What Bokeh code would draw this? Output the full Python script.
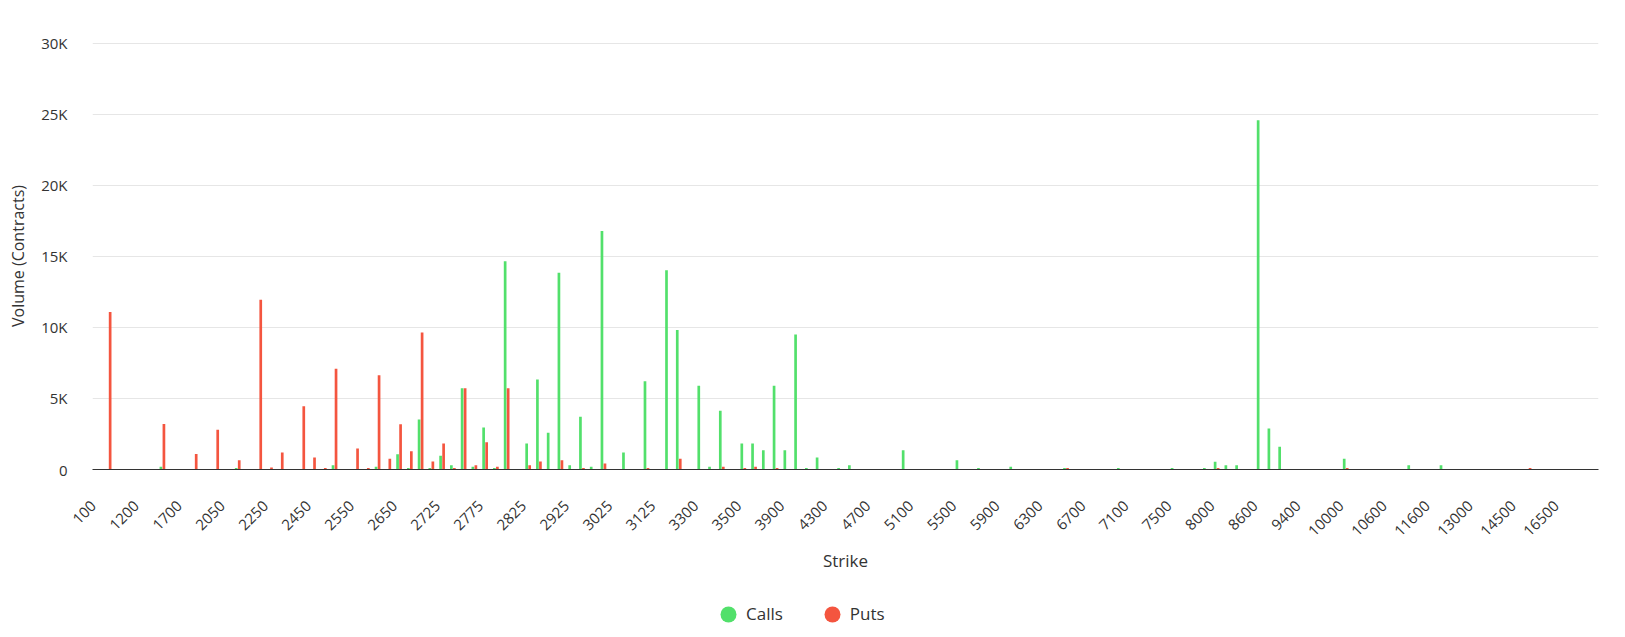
import math
import numpy as np
from bokeh.plotting import figure
from bokeh.layouts import column
from bokeh.models import ColumnDataSource, Range1d, FixedTicker, Legend, LegendItem
from bokeh.transform import dodge
from bokeh.embed import file_html
from bokeh.resources import INLINE

# ---- data -------------------------------------------------------------
strikes = [
    "100", "500", "800", "1000", "1200", "1300", "1500", "1600", "1700", "1800",
    "1900", "2000", "2050", "2100", "2150", "2200", "2250", "2300", "2350", "2400",
    "2450", "2475", "2500", "2525", "2550", "2575", "2600", "2625", "2650", "2675",
    "2700", "2710", "2725", "2740", "2750", "2760", "2775", "2780", "2800", "2810",
    "2825", "2850", "2875", "2900", "2925", "2950", "2975", "3000", "3025", "3050",
    "3075", "3100", "3125", "3150", "3200", "3250", "3300", "3350", "3400", "3450",
    "3500", "3600", "3700", "3800", "3900", "4000", "4100", "4200", "4300", "4400",
    "4500", "4600", "4700", "4800", "4900", "5000", "5100", "5200", "5300", "5400",
    "5500", "5600", "5700", "5800", "5900", "6000", "6100", "6200", "6300", "6400",
    "6500", "6600", "6700", "6800", "6900", "7000", "7100", "7200", "7300", "7400",
    "7500", "7600", "7700", "7800", "8000", "8200", "8400", "8500", "8600", "8800",
    "9000", "9200", "9400", "9600", "9800", "9900", "10000", "10200", "10400", "10500",
    "10600", "11000", "11200", "11400", "11600", "12000", "12400", "12800", "13000", "13500",
    "14000", "14200", "14500", "15000", "15500", "16000", "16500", "17000", "18000", "20000",
]

calls = [
    0, 0, 0, 0, 0, 0, 200, 0, 0, 0,
    0, 0, 0, 100, 0, 0, 0, 0, 0, 0,
    0, 0, 300, 0, 0, 0, 200, 0, 1080, 100,
    3520, 100, 960, 300, 5730, 200, 2960, 100, 14670, 0,
    1830, 6340, 2580, 13850, 300, 3710, 200, 16800, 0, 1200,
    0, 6220, 0, 14030, 9830, 0, 5890, 200, 4130, 0,
    1830, 1830, 1360, 5890, 1360, 9500, 100, 850, 0, 100,
    300, 0, 0, 0, 0, 1360, 0, 0, 0, 0,
    650, 0, 100, 0, 0, 200, 0, 0, 0, 0,
    100, 0, 0, 0, 0, 100, 0, 0, 0, 0,
    100, 0, 0, 100, 540, 300, 300, 0, 24600, 2890,
    1600, 0, 0, 0, 0, 0, 750, 0, 0, 0,
    0, 0, 300, 0, 0, 300, 0, 0, 0, 0,
    0, 0, 0, 0, 0, 0, 0, 0, 0, 0,
]

puts = [
    0, 11100, 0, 0, 0, 0, 3200, 0, 0, 1100,
    0, 2800, 0, 650, 0, 11950, 140, 1200, 0, 4460,
    850, 100, 7090, 0, 1480, 100, 6640, 750, 3190, 1290,
    9650, 560, 1830, 100, 5730, 300, 1920, 200, 5730, 0,
    300, 560, 0, 650, 0, 100, 0, 420, 0, 0,
    0, 100, 0, 0, 750, 0, 0, 0, 200, 0,
    100, 200, 0, 100, 0, 0, 0, 0, 0, 0,
    0, 0, 0, 0, 0, 0, 0, 0, 0, 0,
    0, 0, 0, 0, 0, 0, 0, 0, 0, 0,
    100, 0, 0, 0, 0, 0, 0, 0, 0, 0,
    0, 0, 0, 0, 100, 0, 0, 0, 0, 0,
    0, 0, 0, 0, 0, 0, 100, 0, 0, 0,
    0, 0, 0, 0, 0, 0, 0, 0, 0, 0,
    0, 0, 0, 100, 0, 0, 0, 0, 0, 0,
]

y_ticks = [0, 5000, 10000, 15000, 20000, 25000, 30000]
y_tick_labels = ["0", "5K", "10K", "15K", "20K", "25K", "30K"]
series_names = ["Calls", "Puts"]
label_step = 4

# ---- style ------------------------------------------------------------
FONT = "Open Sans"
TEXT = "#333333"
GREEN = "#52E06B"
RED = "#F4553F"
LABEL_SHIFT = -0.4   # rotated labels end just at their category

idx = list(range(len(strikes)))
src = ColumnDataSource(dict(idx=idx, strike=strikes, calls=calls, puts=puts))

p = figure(width=1625, height=590, output_backend="svg", toolbar_location=None,
           x_range=Range1d(-0.5, len(strikes) - 0.5), y_range=Range1d(0, 30070),
           min_border_left=92, min_border_right=27, min_border_top=42,
           min_border_bottom=121)
p.outline_line_color = None
p.background_fill_color = "white"
p.border_fill_color = "white"

p.vbar(x=dodge("idx", -0.14, range=p.x_range), top="calls", width=0.25,
       source=src, fill_color=GREEN, line_color=None)
p.vbar(x=dodge("idx", 0.14, range=p.x_range), top="puts", width=0.25,
       source=src, fill_color=RED, line_color=None)

# grid
p.xgrid.visible = False
p.ygrid.ticker = FixedTicker(ticks=y_ticks)
p.ygrid.grid_line_color = "#e6e6e6"
p.ygrid.grid_line_width = 1

# y axis
ya = p.yaxis[0]
ya.ticker = FixedTicker(ticks=y_ticks)
ya.major_label_overrides = {t: l for t, l in zip(y_ticks, y_tick_labels)}
ya.axis_line_color = None
ya.major_tick_line_color = None
ya.minor_tick_line_color = None
ya.major_tick_out = 0
ya.major_tick_in = 0
ya.major_label_standoff = 25
ya.major_label_text_font = FONT
ya.major_label_text_font_size = "15px"
ya.major_label_text_color = TEXT
ya.axis_label = "Volume (Contracts)"
ya.axis_label_text_font = FONT
ya.axis_label_text_font_size = "16px"
ya.axis_label_text_font_style = "normal"
ya.axis_label_text_color = TEXT
ya.axis_label_standoff = 9

# x axis
label_idx = idx[::label_step]
tick_pos = [i + LABEL_SHIFT for i in label_idx]
xa = p.xaxis[0]
xa.ticker = FixedTicker(ticks=tick_pos)
xa.major_label_overrides = {t: strikes[i] for t, i in zip(tick_pos, label_idx)}
xa.major_label_orientation = math.pi / 4
xa.axis_line_color = TEXT
xa.axis_line_width = 1
xa.major_tick_line_color = None
xa.minor_tick_line_color = None
xa.major_tick_out = 0
xa.major_tick_in = 0
xa.major_label_standoff = 34
xa.major_label_text_font = FONT
xa.major_label_text_font_size = "15px"
xa.major_label_text_color = TEXT
xa.axis_label = "Strike"
xa.axis_label_text_font = FONT
xa.axis_label_text_font_size = "17px"
xa.axis_label_text_font_style = "normal"
xa.axis_label_text_color = TEXT
xa.axis_label_standoff = 5

# ---- legend strip ----------------------------------------------------
leg = figure(width=1625, height=47, output_backend="svg", toolbar_location=None,
             x_range=Range1d(0, 1), y_range=Range1d(0, 1),
             x_axis_type=None, y_axis_type=None, min_border=0)
leg.outline_line_color = None
leg.xgrid.visible = False
leg.ygrid.visible = False
rc = leg.ellipse(x=[np.nan], y=[np.nan], width=16, height=16,
                 width_units="screen", height_units="screen",
                 fill_color=GREEN, line_color=None)
rp = leg.ellipse(x=[np.nan], y=[np.nan], width=16, height=16,
                 width_units="screen", height_units="screen",
                 fill_color=RED, line_color=None)
legend = Legend(items=[LegendItem(label=series_names[0], renderers=[rc]),
                       LegendItem(label=series_names[1], renderers=[rp])],
                orientation="horizontal", location=(626, 12),
                glyph_width=20, glyph_height=20, label_standoff=8, spacing=39,
                label_text_font=FONT, label_text_font_size="17px",
                label_text_color=TEXT, border_line_color=None,
                background_fill_alpha=0, padding=0, margin=0)
leg.add_layout(legend, "center")

layout = column(p, leg, spacing=0)
open("out.html", "w").write(file_html(layout, INLINE))
